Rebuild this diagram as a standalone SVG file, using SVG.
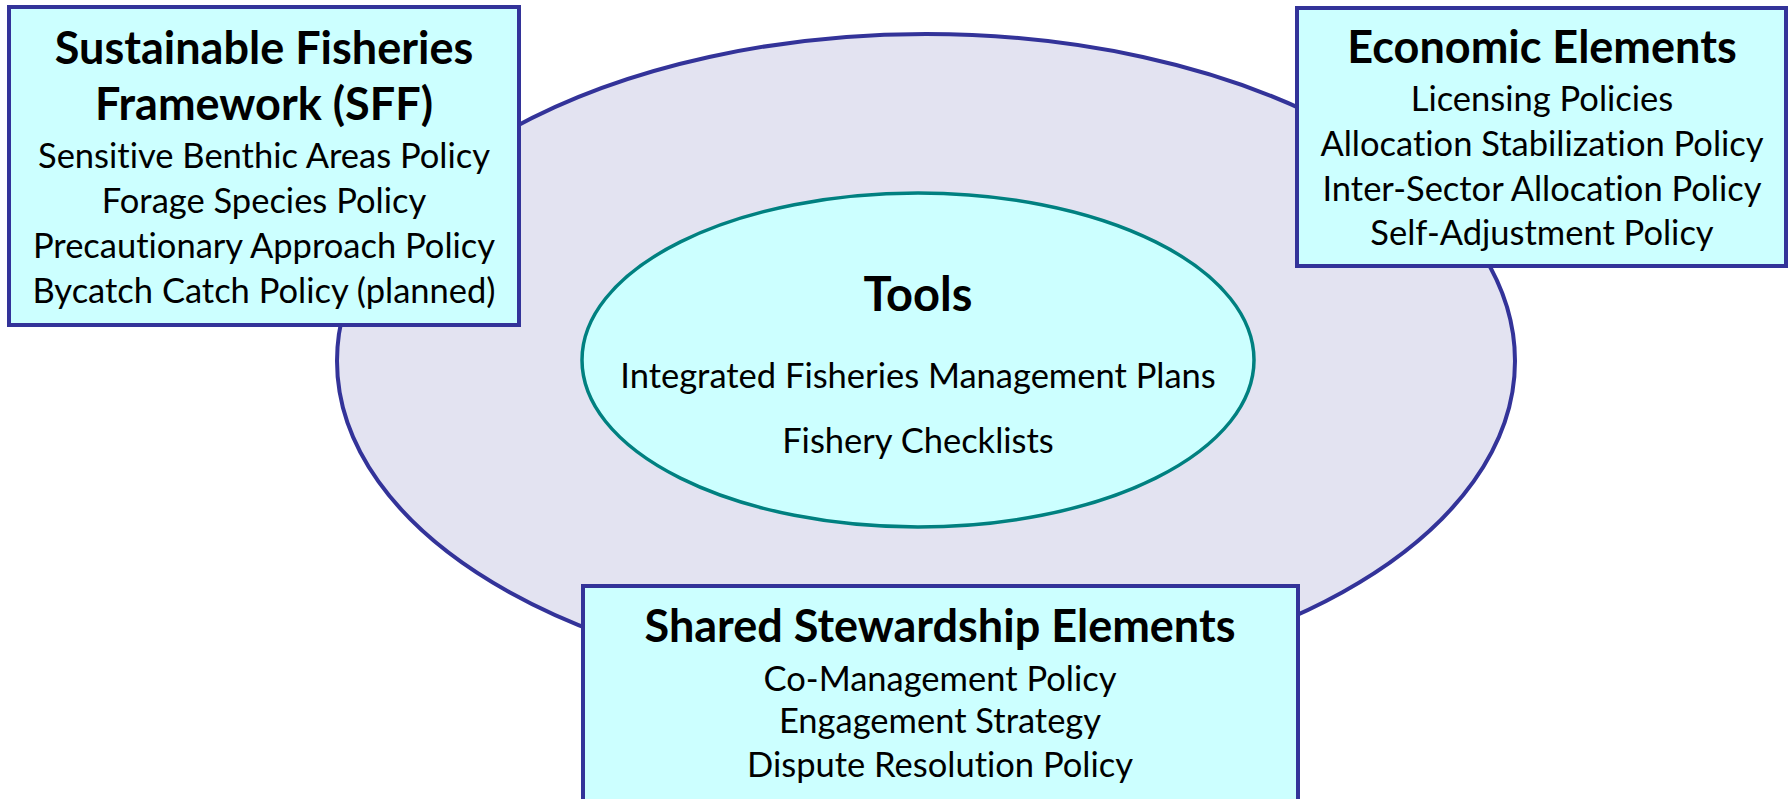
<svg xmlns="http://www.w3.org/2000/svg" width="1791" height="799" viewBox="0 0 1791 799">
<style>
.box{fill:#ccffff;stroke:#333399;stroke-width:4}
.outer{fill:#e3e3f1;stroke:#333399;stroke-width:4}
.inner{fill:#ccffff;stroke:#008080;stroke-width:3.5}
.t{font-family:Lato,"Liberation Sans",sans-serif;fill:#000;text-anchor:middle;font-variant-ligatures:none}
.h{font-weight:bold;font-size:45px}
.i{font-size:34.5px}
</style>
<rect width="1791" height="799" fill="#ffffff"/>
<g id="outer-ellipse"><ellipse class="outer" cx="926" cy="361" rx="589" ry="327"/></g>
<g id="tools">
<ellipse class="inner" cx="918" cy="360" rx="336" ry="167"/>
<text class="t h" x="918" y="311" style="font-size:47px">Tools</text>
<text class="t i" x="918" y="388">Integrated Fisheries Management Plans</text>
<text class="t i" x="918" y="453">Fishery Checklists</text>
</g>
<g id="sff">
<rect class="box" x="9" y="7" width="510" height="318"/>
<text class="t h" x="264" y="64">Sustainable Fisheries</text>
<text class="t h" x="264" y="120">Framework (SFF)</text>
<text class="t i" x="264" y="168">Sensitive Benthic Areas Policy</text>
<text class="t i" x="264" y="213">Forage Species Policy</text>
<text class="t i" x="264" y="258">Precautionary Approach Policy</text>
<text class="t i" x="264" y="303">Bycatch Catch Policy (planned)</text>
</g>
<g id="economic">
<rect class="box" x="1297" y="8" width="489" height="258"/>
<text class="t h" x="1542" y="63">Economic Elements</text>
<text class="t i" x="1542" y="111">Licensing Policies</text>
<text class="t i" x="1542" y="156">Allocation Stabilization Policy</text>
<text class="t i" x="1542" y="201">Inter-Sector Allocation Policy</text>
<text class="t i" x="1542" y="245">Self-Adjustment Policy</text>
</g>
<g id="shared">
<rect class="box" x="583" y="586" width="715" height="240"/>
<text class="t h" x="940" y="642">Shared Stewardship Elements</text>
<text class="t i" x="940" y="691">Co-Management Policy</text>
<text class="t i" x="940" y="733">Engagement Strategy</text>
<text class="t i" x="940" y="777">Dispute Resolution Policy</text>
</g>
<g id="connectors"/>
</svg>
